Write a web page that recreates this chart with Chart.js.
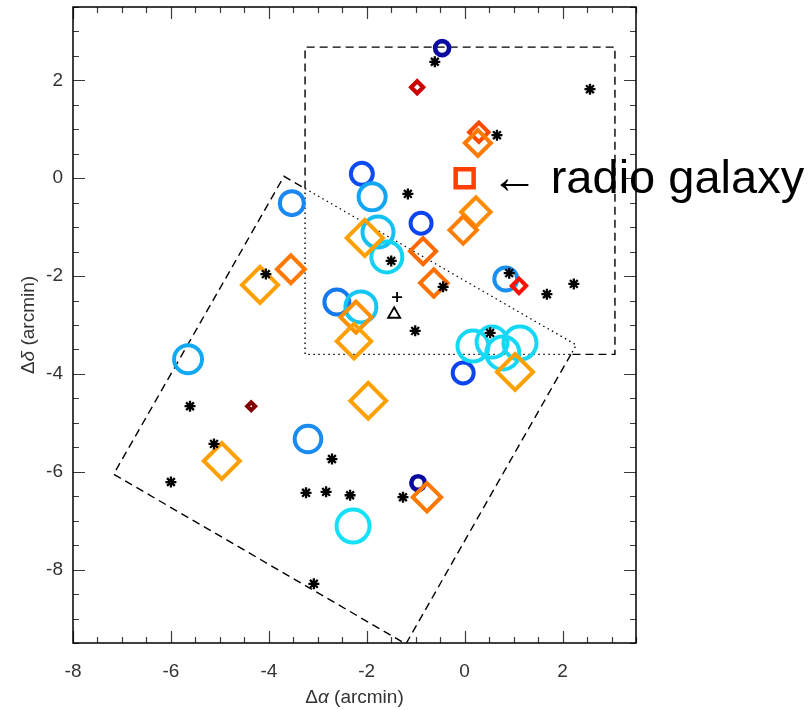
<!DOCTYPE html>
<html>
<head>
<meta charset="utf-8">
<script src="https://cdn.jsdelivr.net/npm/chart.js@4/dist/chart.umd.min.js"></script>
<style>
  html, body { margin: 0; padding: 0; background: #ffffff; }
  canvas { display: block; }
</style>
</head>
<body>
<canvas id="field" width="811" height="710"></canvas>
<script>
// Offsets from the radio galaxy, in arcmin (Δα, Δδ)

// Emitters drawn as open circles
const circleX = [-0.46, -2.10, -1.89, -3.53, -0.89, -1.77, -1.59, -2.61, -2.12, 0.84, -0.03, 0.17, 0.56, 0.78, 1.13, -5.65, -3.20, -2.28, -0.95];
const circleY = [2.66, 0.09, -0.38, -0.51, -0.92, -1.10, -1.61, -2.53, -2.63, -2.06, -3.98, -3.43, -3.35, -3.57, -3.37, -3.70, -5.33, -7.11, -6.23];

// Emitters drawn as open diamonds
const diamondX = [-0.97, 0.29, 0.27, 0.23, -0.03, -2.04, -0.85, -0.63, 1.11, -2.22, -2.26, 1.03, -3.55, -4.18, -4.36, -4.96, -1.97, -0.77];
const diamondY = [1.86, 0.94, 0.72, -0.69, -1.06, -1.22, -1.49, -2.14, -2.20, -2.84, -3.33, -3.96, -1.86, -2.18, -4.66, -5.78, -4.55, -6.52];

// Other sources (asterisks)
const starX = [-0.61, 2.56, 0.66, -1.16, -1.50, -0.44, 0.91, 1.68, 2.23, -1.01, 0.52, -4.06, -5.61, -5.12, -6.00, -2.71, -3.24, -2.83, -2.34, -1.26, -3.08];
const starY = [2.38, 1.82, 0.88, -0.32, -1.69, -2.22, -1.94, -2.37, -2.16, -3.12, -3.16, -1.96, -4.66, -5.43, -6.21, -5.74, -6.43, -6.41, -6.48, -6.52, -8.29];

// Radio galaxy and the two reference marks
const radioGalaxy = [{ x: 0, y: 0 }];
const plusMark = [{ x: -1.38, y: -2.43 }];
const triangleMark = [{ x: -1.44, y: -2.78 }];

// Survey footprints
const boxX = [-3.26, -3.26, 3.07, 3.07, 2.17];
const boxY = [-0.21, 2.68, 2.68, -3.60, -3.60];
const tiltedX = [2.17, -1.20, -7.17, -3.69, -3.26];
const tiltedY = [-3.60, -9.52, -6.05, 0.04, -0.21];
const overlapX = [-3.26, 2.28, 2.17, -3.26, -3.26];
const overlapY = [-0.21, -3.41, -3.60, -3.60, -0.21];

// Axis ticks
const xTickValues = [-8, -6, -4, -2, 0, 2];
const yTickValues = [-8, -6, -4, -2, 0, 2];
const xRange = [-8, 3.5];
const yRange = [-9.5, 3.5];

// ---- marker styles ----
const circleRadius = [7, 11, 13.5, 12, 10.5, 15.5, 15.5, 12.5, 15.5, 11.5, 10.5, 15.5, 15.5, 16.5, 16.5, 14, 13.3, 16.5, 6.8];
const circleWidth = [4.6, 4, 4, 4, 4, 4, 4, 4, 4, 4, 4, 4, 4, 4, 4, 4, 4, 4, 4.6];
const circleColor = ['#0a0aa0', '#0c4cf2', '#12a6f2', '#1a88f0', '#0c44f0', '#14c0f2', '#14d2f4', '#1478f0', '#14c6f2', '#1a90f0', '#0c44f0', '#14d8f6', '#14d8f6', '#14d8f6', '#14d8f6', '#12a8f2', '#1a8cf0', '#14e0f8', '#0a0aa0'];

const diamondRadius = [6, 9.7, 13, 14.7, 13.7, 18, 13, 13.7, 7.2, 15.5, 17.2, 18, 13.9, 18, 4, 18, 17.9, 14.2];
const diamondWidth = [4.2, 4, 4, 4, 4, 4, 4, 4, 4, 4, 4, 4, 4, 4, 4, 4, 4, 4];
const diamondColor = ['#cc0000', '#ff4a00', '#ff7a00', '#ff8c00', '#ff7e00', '#ffa000', '#ff6a00', '#ff7000', '#ff1000', '#ff9000', '#ffa000', '#ffa000', '#ff7800', '#ffa000', '#800000', '#ffa000', '#ffa000', '#ff7800'];

const FONT = '"Liberation Sans", Arial, Helvetica, sans-serif';

function zipXY(xs, ys) {
  return xs.map((x, i) => ({ x: x, y: ys[i] }));
}

function outline(xs, ys, dash) {
  return {
    data: zipXY(xs, ys),
    showLine: true,
    fill: false,
    tension: 0,
    pointRadius: 0,
    borderColor: '#000000',
    borderWidth: 1.4,
    borderDash: dash,
    order: 5
  };
}

// Frame, inside tick marks, axis titles and the radio galaxy label
const decorations = {
  id: 'decorations',
  afterDatasetsDraw(chart) {
    const c = chart.ctx;
    const a = chart.chartArea;
    const xs = chart.scales.x, ys = chart.scales.y;
    c.save();
    c.strokeStyle = '#3a3a3a';
    c.lineWidth = 1.2;
    c.beginPath();
    for (let v = xRange[0]; v <= xRange[1] + 1e-9; v += 0.5) {
      const px = Math.round(xs.getPixelForValue(v)) + 0.5;
      const len = (Math.abs(v % 2) < 1e-9) ? 12 : 6;
      c.moveTo(px, a.bottom); c.lineTo(px, a.bottom - len);
      c.moveTo(px, a.top); c.lineTo(px, a.top + len);
    }
    for (let v = yRange[0]; v <= yRange[1] + 1e-9; v += 0.5) {
      const py = Math.round(ys.getPixelForValue(v)) + 0.5;
      const len = (Math.abs(v % 2) < 1e-9) ? 12 : 6;
      c.moveTo(a.left, py); c.lineTo(a.left + len, py);
      c.moveTo(a.right, py); c.lineTo(a.right - len, py);
    }
    c.stroke();
    c.strokeStyle = '#000000';
    c.lineWidth = 1.5;
    c.strokeRect(a.left, a.top, a.right - a.left, a.bottom - a.top);
    c.restore();
  },
  afterDraw(chart) {
    const c = chart.ctx;
    const a = chart.chartArea;
    c.save();
    c.fillStyle = '#333333';
    c.textBaseline = 'middle';
    const size = 19;
    function mixed(parts, cx, cy) {
      let total = 0;
      parts.forEach(p => { c.font = p[1] + size + 'px ' + FONT; p.w = c.measureText(p[0]).width; total += p.w; });
      let x = cx - total / 2;
      c.textAlign = 'left';
      parts.forEach(p => { c.font = p[1] + size + 'px ' + FONT; c.fillText(p[0], x, cy); x += p.w; });
    }
    mixed([['Δ', ''], ['α', 'italic '], [' (arcmin)', '']], (a.left + a.right) / 2, 698);
    c.save();
    c.translate(29, (a.top + a.bottom) / 2);
    c.rotate(-Math.PI / 2);
    mixed([['Δ', ''], ['δ', 'italic '], [' (arcmin)', '']], 0, 0);
    c.restore();

    // label for the radio galaxy
    const gx = chart.scales.x.getPixelForValue(radioGalaxy[0].x);
    const gy = chart.scales.y.getPixelForValue(radioGalaxy[0].y);
    c.fillStyle = '#000000';
    c.font = '47px ' + FONT;
    c.textAlign = 'left';
    c.textBaseline = 'alphabetic';
    c.fillText('\u2190 radio galaxy', gx + 26, gy + 15);
    c.restore();
  }
};

new Chart(document.getElementById('field'), {
  type: 'scatter',
  data: {
    datasets: [
      outline(boxX, boxY, [8, 5]),
      outline(tiltedX, tiltedY, [8, 5]),
      outline(overlapX, overlapY, [1.5, 3.5]),
      {
        data: zipXY(circleX, circleY),
        pointStyle: 'circle',
        pointRadius: circleRadius,
        pointBorderWidth: circleWidth,
        pointBorderColor: circleColor,
        pointBackgroundColor: 'rgba(0,0,0,0)',
        order: 4
      },
      {
        data: zipXY(diamondX, diamondY),
        pointStyle: 'rectRot',
        pointRadius: diamondRadius,
        pointBorderWidth: diamondWidth,
        pointBorderColor: diamondColor,
        pointBackgroundColor: 'rgba(0,0,0,0)',
        order: 3
      },
      {
        data: radioGalaxy,
        pointStyle: 'rect',
        pointRadius: 12.7,
        pointBorderWidth: 4.5,
        pointBorderColor: '#ff4000',
        pointBackgroundColor: 'rgba(0,0,0,0)',
        order: 2
      },
      {
        data: zipXY(starX, starY),
        pointStyle: 'star',
        pointRadius: 5.5,
        pointBorderWidth: 2.3,
        pointBorderColor: '#000000',
        pointBackgroundColor: '#000000',
        order: 1
      },
      {
        data: plusMark,
        pointStyle: 'cross',
        pointRadius: 5,
        pointBorderWidth: 1.8,
        pointBorderColor: '#000000',
        order: 1
      },
      {
        data: triangleMark,
        pointStyle: 'triangle',
        pointRadius: 7,
        pointBorderWidth: 1.8,
        pointBorderColor: '#000000',
        pointBackgroundColor: 'rgba(0,0,0,0)',
        order: 1
      }
    ]
  },
  options: {
    responsive: false,
    animation: false,
    events: [],
    layout: { autoPadding: false, padding: { top: 7, right: 175, left: 0, bottom: 0 } },
    plugins: { legend: { display: false }, tooltip: { enabled: false } },
    scales: {
      x: {
        type: 'linear',
        min: xRange[0],
        max: xRange[1],
        afterFit(s) { s.height = 67; s.paddingLeft = 0; s.paddingRight = 0; },
        afterBuildTicks(s) { s.ticks = xTickValues.map(v => ({ value: v })); },
        grid: { display: false, drawTicks: false },
        border: { display: false },
        ticks: { color: '#333333', padding: 17, maxRotation: 0, autoSkip: false, font: { family: FONT, size: 19 } }
      },
      y: {
        type: 'linear',
        min: yRange[0],
        max: yRange[1],
        afterFit(s) { s.width = 73; s.paddingTop = 0; s.paddingBottom = 0; },
        afterBuildTicks(s) { s.ticks = yTickValues.map(v => ({ value: v })); },
        grid: { display: false, drawTicks: false },
        border: { display: false },
        ticks: { color: '#333333', padding: 10, autoSkip: false, font: { family: FONT, size: 19 } }
      }
    }
  },
  plugins: [decorations]
});
</script>
</body>
</html>
